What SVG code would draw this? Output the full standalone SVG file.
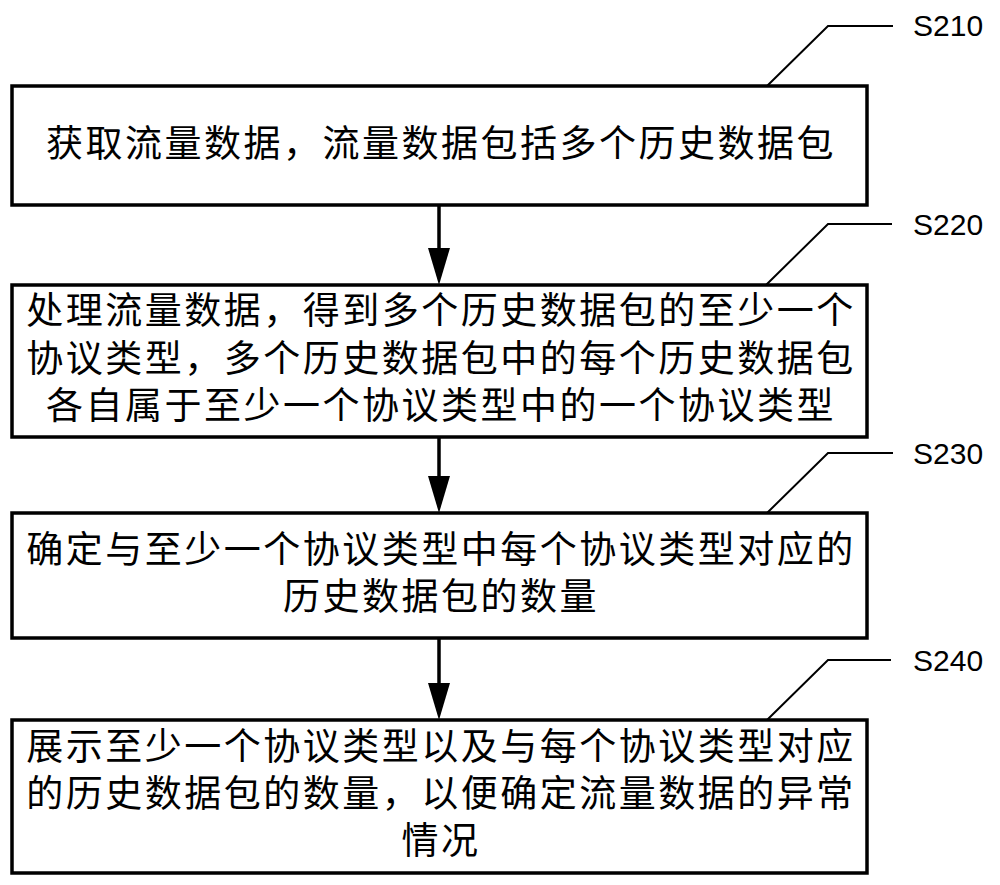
<svg xmlns="http://www.w3.org/2000/svg" width="1000" height="885" viewBox="0 0 1000 885">
  <style>
    .box { fill: #ffffff; stroke: #000000; stroke-width: 3.5; }
    .txt { font-family: "Noto Sans CJK SC", "Noto Sans", sans-serif; font-size: 37px; letter-spacing: 2.5px; fill: #000000; text-anchor: middle; }
    .lbl { font-family: "Liberation Sans", Arial, sans-serif; font-size: 30px; fill: #000000; }
    .lead { fill: none; stroke: #000000; stroke-width: 2; }
    .flow { stroke: #000000; stroke-width: 3.5; fill: none; }
    .head { fill: #000000; }
  </style>
  <rect width="1000" height="885" fill="#ffffff"/>

  <g id="connectors">
    <line class="flow" x1="439" y1="206" x2="439" y2="250"/>
    <polygon class="head" points="428,248 450,248 439,285"/>
    <line class="flow" x1="439" y1="438" x2="439" y2="478"/>
    <polygon class="head" points="428,476 450,476 439,513"/>
    <line class="flow" x1="439" y1="639" x2="439" y2="685"/>
    <polygon class="head" points="428,683 450,683 439,720"/>
    <polyline class="lead" points="767,86 828,26 893,26"/>
    <polyline class="lead" points="766,285 828,224 892,224"/>
    <polyline class="lead" points="767,513 828,453 893,453"/>
    <polyline class="lead" points="767,720 828,660 891,660"/>
  </g>

  <g id="S210">
    <rect class="box" x="12" y="86" width="855" height="119"/>
    <text class="txt" x="441" y="157">获取流量数据，流量数据包括多个历史数据包</text>
    <text class="lbl" x="913" y="36">S210</text>
  </g>

  <g id="S220">
    <rect class="box" x="12" y="285" width="855" height="152"/>
    <text class="txt" x="441" y="324">处理流量数据，得到多个历史数据包的至少一个</text>
    <text class="txt" x="441" y="372">协议类型，多个历史数据包中的每个历史数据包</text>
    <text class="txt" x="441" y="419">各自属于至少一个协议类型中的一个协议类型</text>
    <text class="lbl" x="913" y="235">S220</text>
  </g>

  <g id="S230">
    <rect class="box" x="12" y="513" width="855" height="125"/>
    <text class="txt" x="441" y="563">确定与至少一个协议类型中每个协议类型对应的</text>
    <text class="txt" x="441" y="610">历史数据包的数量</text>
    <text class="lbl" x="913" y="464">S230</text>
  </g>

  <g id="S240">
    <rect class="box" x="12" y="720" width="855" height="153"/>
    <text class="txt" x="441" y="760">展示至少一个协议类型以及与每个协议类型对应</text>
    <text class="txt" x="441" y="807">的历史数据包的数量，以便确定流量数据的异常</text>
    <text class="txt" x="441" y="854">情况</text>
    <text class="lbl" x="913" y="671">S240</text>
  </g>
</svg>
